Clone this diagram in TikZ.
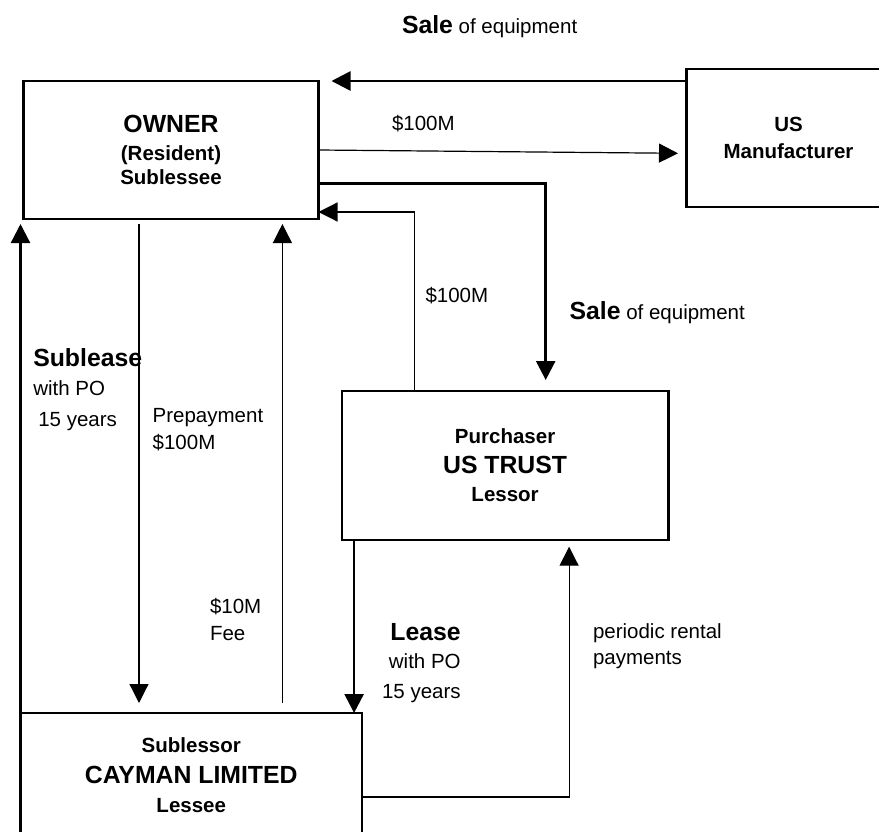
\documentclass[tikz,border=0pt]{standalone}
\usepackage{fontspec}
\setmainfont{Liberation Sans}
\usetikzlibrary{arrows.meta,calc}
\newcommand{\szsmall}{\fontsize{20.5}{23}\selectfont}
\newcommand{\szbig}{\fontsize{24.8}{28}\selectfont}
\begin{document}
\begin{tikzpicture}[x=1pt,y=-1pt,
  box/.style={draw,line width=2.3pt,outer sep=0pt,inner sep=0pt,align=center,font=\szsmall\bfseries},
  lbl/.style={inner sep=0pt,outer sep=0pt,font=\szsmall},
  tip/.style={-{Triangle[length=19pt,width=19pt]}},
  thinline/.style={line width=1.2pt},
  thickline/.style={line width=2.6pt},
  midline/.style={line width=2.3pt}]
\path[fill=white,use as bounding box] (0,0) rectangle (879,832);
\clip (0,0) rectangle (879,832);

% boxes
\node[box,minimum width=295pt,minimum height=138pt] (own) at (171,150)
  {{\szbig OWNER}\\[5.7pt](Resident)\\[1pt]Sublessee};
\node[box,minimum width=203.8pt,minimum height=138pt] (man) at (788.5,138)
  {US\\[4.6pt]Manufacturer};
\node[box,minimum width=326.8pt,minimum height=148.7pt] (trust) at (505.1,465.35)
  {Purchaser\\[7pt]{\szbig US TRUST}\\[4.7pt]Lessor};
\node[box,minimum width=341.5pt,minimum height=125pt] (cay) at (191.25,775.5)
  {Sublessor\\[8pt]{\szbig CAYMAN LIMITED}\\[5.7pt]Lessee};

% connectors
\draw[thickline,tip] (man.west |- own.north) -- ([xshift=13pt]own.north east);
\draw[thinline,tip] (own.east) -- ($(man.west)+(-8.6,15.3)$);
\coordinate (saleA) at ($(own.east)+(0,33.3)$);
\coordinate (saleB) at ($(trust.north)+(40.6,-11)$);
\draw[thickline,tip] (saleA) -| (saleB);
\coordinate (payA) at ($(trust.north)+(-91,0)$);
\coordinate (payB) at ($(own.east)+(0,62)$);
\draw[thinline,tip] (payA) |- (payB);
\draw[midline,tip] (cay.north west) -- ($(cay.west |- own.south)+(0,5)$);
\draw[thinline,tip] ($(own.south)+(-32,5)$) -- ($(cay.north)+(-52.25,-10)$);
\draw[thinline,tip] ($(cay.north)+(91.15,-10)$) -- ($(own.south)+(111.4,5)$);
\coordinate (leaseA) at ($(trust.south)+(-151,0)$);
\draw[thickline,tip] (leaseA) -- (leaseA |- cay.north);
\coordinate (rentA) at ($(cay.east)+(0,21.5)$);
\coordinate (rentB) at ($(trust.south)+(64,7)$);
\draw[thinline,tip] (rentA) -| (rentB);

% labels (multi-line nodes: base = baseline of last line)
\node[lbl,anchor=base west] (saletop) at (402,33.3) {{\szbig\bfseries Sale} of equipment};
\node[lbl,anchor=base west] (m1) at (392,130.7) {\$100M};
\node[lbl,anchor=base west] (m2) at (425.5,302.5) {\$100M};
\node[lbl,anchor=base west] (salemid) at (569.6,319) {{\szbig\bfseries Sale} of equipment};
\node[lbl,anchor=base west,align=left] (sublease) at (33.3,426)
  {{\szbig\bfseries Sublease}\\[6pt]with PO\\[7.3pt]\hspace*{5pt}15 years};
\node[lbl,anchor=base west,align=left] (prepay) at (152.7,449) {Prepayment\\[3.7pt]\$100M};
\node[lbl,anchor=base west,align=left] (fee) at (210,640) {\$10M\\[4pt]Fee};
\node[lbl,anchor=base east,align=right] (lease) at (460.7,698.5)
  {{\szbig\bfseries Lease}\\[4.3pt]with PO\\[7.5pt]15 years};
\node[lbl,anchor=base west,align=left] (rent) at (593,664) {periodic rental\\[3pt]payments};
\end{tikzpicture}
\end{document}
